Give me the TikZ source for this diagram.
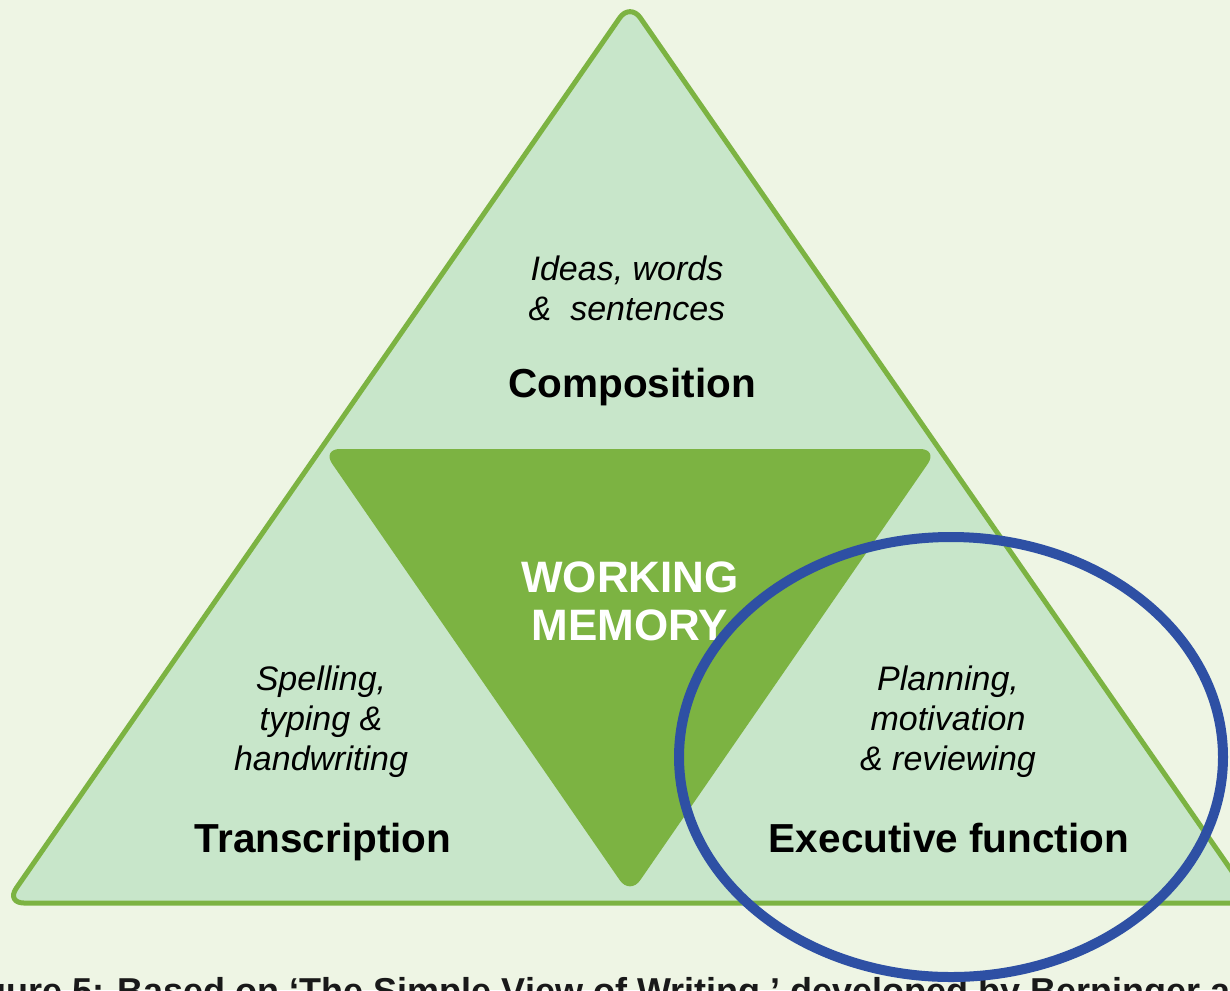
\documentclass[tikz,border=0pt]{standalone}
\usepackage{fontspec}
\setmainfont{Liberation Sans}
\usetikzlibrary{positioning}
\definecolor{paper}{RGB}{238,245,228}
\definecolor{mint}{RGB}{200,230,202}
\definecolor{leaf}{RGB}{124,179,66}
\definecolor{ink}{RGB}{46,80,164}
\tikzset{
	x=1pt, y=-1pt, % one unit is one pixel of the reference, y runs down
	side/.style={fill=mint, draw=leaf, line width=5pt, rounded corners=18pt, line join=round}, % the big triangle
	core/.style={fill=leaf, rounded corners=18pt}, % the inner triangle
	skill/.style={font=\fontsize{40.5}{48}\selectfont\bfseries, anchor=base}, % the three headings
	detail/.style={font=\fontsize{34}{40}\selectfont\itshape, align=center, anchor=base}, % the small italic lines
	memo/.style={font=\fontsize{44}{48}\selectfont\bfseries, text=white, align=center, anchor=base},
	ring/.style={draw=ink, line width=10pt},
	caption/.style={font=\fontsize{36}{40}\selectfont\bfseries, text=black!90, anchor=base west},
}

\begin{document}
\begin{tikzpicture}
	\fill[paper] (0,0) rectangle (1230,990);
	\useasboundingbox (0,0) rectangle (1230,990);
	\coordinate (apex) at (630,3);
	\coordinate (bl) at (6,903);
	\coordinate (br) at (1254,903);
	\coordinate (cl) at (322,449);
	\coordinate (cr) at (938,449);
	\coordinate (cb) at (630,895);
	\draw[side] (apex) -- (br) -- (bl) -- cycle;
	\fill[core] (cl) -- (cr) -- (cb) -- cycle;
	% multi-line nodes sit on the baseline of their last line
	\node[detail] (ideas) at (627,320) {Ideas, words\\\&~ sentences};
	\node[skill] (comp) at (632,397) {Composition};
	\node[memo] (wm) at (630,640) {WORKING\\MEMORY};
	\node[detail] (spell) at (321,770) {Spelling,\\typing \&\\handwriting};
	\node[skill] (trans) at (323,852) {Transcription};
	\node[detail] (plan) at (948,770) {Planning,\\motivation\\\& reviewing};
	\node[skill] (exec) at (949,852) {Executive function};
	\node[caption] (cap) at (-51,1003) {Figure 5: Based on ‘The Simple View of Writing,’ developed by Berninger and};
	\draw[ring] (951,757) ellipse [x radius=272pt, y radius=220pt];
\end{tikzpicture}
\end{document}
